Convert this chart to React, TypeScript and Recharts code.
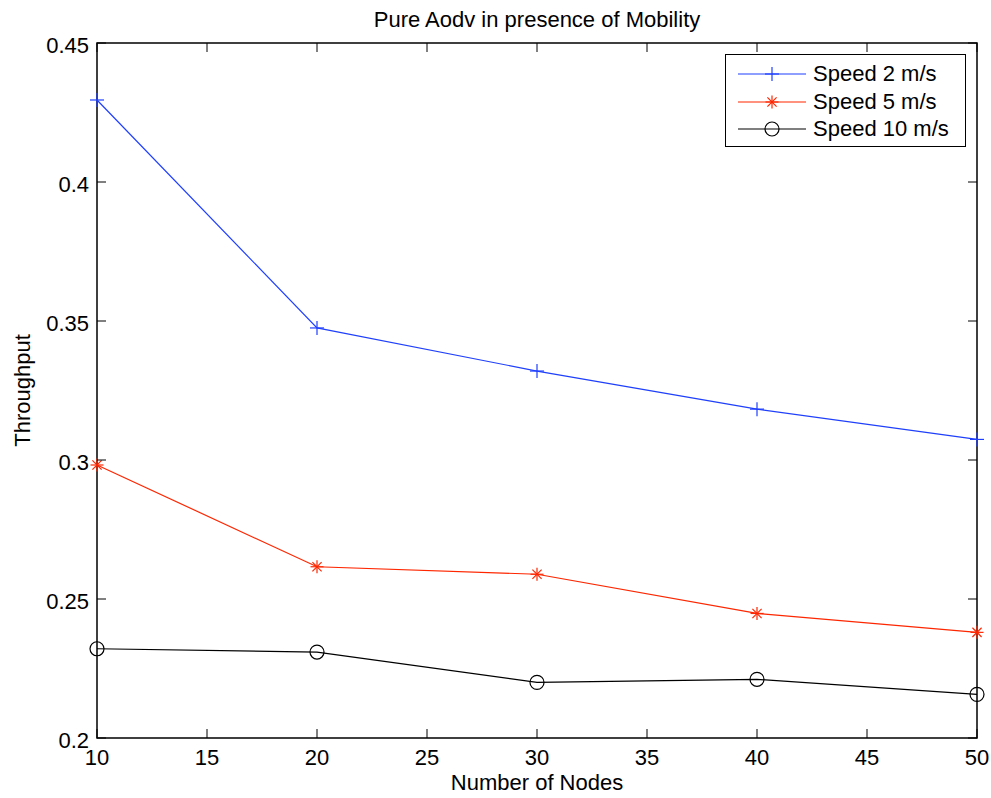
import React from 'react';
import { LineChart, Line, XAxis, YAxis, ReferenceArea } from 'recharts';

const nodes = [10, 20, 30, 40, 50];
const speed2 = [0.4295, 0.3475, 0.332, 0.3183, 0.3074];
const speed5 = [0.2982, 0.2616, 0.2589, 0.2448, 0.238];
const speed10 = [0.2321, 0.2309, 0.22, 0.2211, 0.2157];
const xTicks = [10, 15, 20, 25, 30, 35, 40, 45, 50];
const yTicks = [0.2, 0.25, 0.3, 0.35, 0.4, 0.45];
const seriesNames = ['Speed 2 m/s', 'Speed 5 m/s', 'Speed 10 m/s'];
const titleText = 'Pure Aodv in presence of Mobility';
const xLabel = 'Number of Nodes';
const yLabel = 'Throughput';

const data = nodes.map((n, i) => ({ n, s2: speed2[i], s5: speed5[i], s10: speed10[i] }));

const W = 991;
const H = 798;
const PL = 97;
const PR = 977;
const PT = 43;
const PB = 738;
const FONT = '"Liberation Sans", Arial, Helvetica, sans-serif';
const FS = 22;
const BLUE = '#1f3fff';
const RED = '#ff2600';
const BLACK = '#000000';

const XTick = (props: any) => {
  const { x, payload } = props;
  return (
    <g>
      <line x1={x} x2={x} y1={PB} y2={PB - 9} stroke="#000" strokeWidth={1} />
      <line x1={x} x2={x} y1={PT} y2={PT + 9} stroke="#000" strokeWidth={1} />
      <text x={x} y={757} textAnchor="middle" dominantBaseline="central" fontFamily={FONT} fontSize={FS} fill="#000">
        {String(payload.value)}
      </text>
    </g>
  );
};

const YTick = (props: any) => {
  const { y, payload } = props;
  return (
    <g>
      <line x1={PL} x2={PL + 9} y1={y} y2={y} stroke="#000" strokeWidth={1} />
      <line x1={PR - 9} x2={PR} y1={y} y2={y} stroke="#000" strokeWidth={1} />
      <text x={89} y={y + 2} textAnchor="end" dominantBaseline="central" fontFamily={FONT} fontSize={FS} fill="#000">
        {String(payload.value)}
      </text>
    </g>
  );
};

const PlusDot = (props: any) => {
  const { cx, cy } = props;
  if (cx == null || cy == null) return null;
  return (
    <g>
      <line x1={cx - 7} x2={cx + 7} y1={cy} y2={cy} stroke={BLUE} strokeWidth={1.2} />
      <line x1={cx} x2={cx} y1={cy - 7} y2={cy + 7} stroke={BLUE} strokeWidth={1.2} />
    </g>
  );
};

const StarDot = (props: any) => {
  const { cx, cy } = props;
  if (cx == null || cy == null) return null;
  const r = 6.5;
  const d = r * 0.7071;
  return (
    <g stroke={RED} strokeWidth={1.2}>
      <line x1={cx - r} x2={cx + r} y1={cy} y2={cy} />
      <line x1={cx} x2={cx} y1={cy - r} y2={cy + r} />
      <line x1={cx - d} x2={cx + d} y1={cy - d} y2={cy + d} />
      <line x1={cx - d} x2={cx + d} y1={cy + d} y2={cy - d} />
    </g>
  );
};

const CircleDot = (props: any) => {
  const { cx, cy } = props;
  if (cx == null || cy == null) return null;
  return <circle cx={cx} cy={cy} r={7} fill="none" stroke={BLACK} strokeWidth={1.2} />;
};

const markers = [
  (x: number, y: number) => <PlusDot cx={x} cy={y} />,
  (x: number, y: number) => <StarDot cx={x} cy={y} />,
  (x: number, y: number) => <CircleDot cx={x} cy={y} />,
];
const colors = [BLUE, RED, BLACK];

const LegendBox = () => (
  <div
    style={{
      position: 'absolute',
      left: 725,
      top: 54,
      width: 241,
      height: 93,
      boxSizing: 'border-box',
      border: '1.5px solid #000',
      background: '#fff',
      fontFamily: FONT,
      fontSize: FS,
    }}
  >
    {seriesNames.map((name, i) => (
      <div key={name} style={{ position: 'absolute', left: 0, top: 5 + i * 27.5, height: 28, width: 239 }}>
        <svg width={90} height={28} style={{ position: 'absolute', left: 0, top: 0 }}>
          <line x1={12} x2={80} y1={14} y2={14} stroke={colors[i]} strokeWidth={1.2} />
          {markers[i](46, 14)}
        </svg>
        <span style={{ position: 'absolute', left: 87, top: 0, lineHeight: '28px', whiteSpace: 'nowrap' }}>{name}</span>
      </div>
    ))}
  </div>
);

export default function App() {
  return (
    <div style={{ position: 'absolute', left: 0, top: 0, width: W, height: H, background: '#fff' }}>
      <LineChart width={W} height={H} data={data} margin={{ top: PT, right: W - PR, bottom: 0, left: 0 }}>
        <XAxis
          dataKey="n"
          type="number"
          domain={[10, 50]}
          ticks={xTicks}
          interval={0}
          height={H - PB}
          tick={<XTick />}
          tickLine={false}
          axisLine={false}
          label={{
            content: () => (
              <g>
                <text x={(PL + PR) / 2} y={782} textAnchor="middle" dominantBaseline="central" fontFamily={FONT} fontSize={FS} fill="#000">
                  {xLabel}
                </text>
                <text x={(PL + PR) / 2} y={19} textAnchor="middle" dominantBaseline="central" fontFamily={FONT} fontSize={FS} fill="#000">
                  {titleText}
                </text>
              </g>
            ),
          }}
        />
        <YAxis
          type="number"
          domain={[0.2, 0.45]}
          ticks={yTicks}
          interval={0}
          width={PL}
          tick={<YTick />}
          tickLine={false}
          axisLine={false}
          label={{
            content: () => (
              <text
                x={22}
                y={(PT + PB) / 2}
                transform={`rotate(-90 22 ${(PT + PB) / 2})`}
                textAnchor="middle"
                dominantBaseline="central"
                fontFamily={FONT}
                fontSize={FS}
                fill="#000"
              >
                {yLabel}
              </text>
            ),
          }}
        />
        <ReferenceArea x1={10} x2={50} y1={0.2} y2={0.45} fill="none" fillOpacity={0} stroke="#000" strokeWidth={1.5} />
        <Line dataKey="s2" name={seriesNames[0]} stroke={BLUE} strokeWidth={1.2} dot={<PlusDot />} activeDot={false} isAnimationActive={false} />
        <Line dataKey="s5" name={seriesNames[1]} stroke={RED} strokeWidth={1.2} dot={<StarDot />} activeDot={false} isAnimationActive={false} />
        <Line dataKey="s10" name={seriesNames[2]} stroke={BLACK} strokeWidth={1.2} dot={<CircleDot />} activeDot={false} isAnimationActive={false} />
      </LineChart>
      <LegendBox />
    </div>
  );
}
